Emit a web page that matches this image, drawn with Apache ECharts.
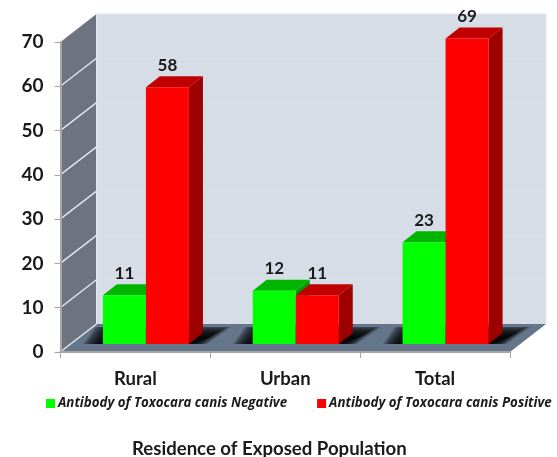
<!DOCTYPE html>
<html>
<head>
<meta charset="utf-8">
<style>html,body{margin:0;padding:0;background:#fff}#chart{width:557px;height:457px}</style>
<script src="https://cdn.jsdelivr.net/npm/echarts@6/dist/echarts.min.js"></script>
</head>
<body>
<div id="chart"></div>
<script>
// Exposed population by residence and antibody result
const categories = ['Rural', 'Urban', 'Total'];
const negativeName = 'Antibody of Toxocara canis Negative';
const positiveName = 'Antibody of Toxocara canis Positive';
const negativeValues = [11, 12, 23];
const positiveValues = [58, 11, 69];
const yTicks = { min: 0, max: 70, interval: 10 };
const axisTitle = 'Residence of Exposed Population';

// Pseudo-3D depth of the chart box and of the bars
const BOX = { dx: 36, dy: -28 };
const BAR = { dx: 14, dy: -11, shiftX: 10.5, shiftY: -8, band: 0.287 };
const FONT = 'Lato, "Open Sans", sans-serif';
const TEXT = '#1a1a1a';

function poly(points, fill) {
  return { type: 'polygon', shape: { points }, style: { fill }, silent: true };
}
function seg(x1, y1, x2, y2, stroke, lineWidth) {
  return { type: 'line', shape: { x1, y1, x2, y2 }, style: { stroke, lineWidth }, silent: true };
}

// Back wall, side wall and floor of the box with their gridlines
function renderBox(params, api) {
  const c = params.coordSys;
  const L = c.x, R = c.x + c.width, T = c.y, B = c.y + c.height;
  const d = BOX;
  const children = [
    poly([[L + d.dx, T + d.dy], [R + d.dx, T + d.dy], [R + d.dx, B + d.dy], [L + d.dx, B + d.dy]], '#d6dde6'),
    poly([[L, B], [L + d.dx, B + d.dy], [R + d.dx, B + d.dy], [R, B]], '#65758a'),
    poly([[L, T], [L + d.dx, T + d.dy], [L + d.dx, B + d.dy], [L, B]], '#6d7480')
  ];
  for (let v = yTicks.min; v <= yTicks.max; v += yTicks.interval) {
    const y = api.coord([0, v])[1];
    if (v > yTicks.min && v < yTicks.max) {
      children.push(seg(L + d.dx, y + d.dy, R + d.dx, y + d.dy, '#dae0e8', 1));
    }
    if (v < yTicks.max) children.push(seg(L + 1, y - 1, L + d.dx, y + d.dy, '#e4e7ec', 1.4));
  }
  children.push(seg(L + d.dx, T + d.dy, L + d.dx, B + d.dy, '#e3e7ec', 1));
  children.push(seg(L + d.dx, T + d.dy, R + d.dx, T + d.dy, '#e3e7ec', 1));
  children.push(seg(R + d.dx, T + d.dy, R + d.dx, B + d.dy, '#e3e7ec', 1));
  return { type: 'group', children };
}

// Soft black shadow on the floor behind each pair of bars, built from stacked translucent layers
function renderShadow(params, api) {
  const base = api.coord([api.value(0), 0]);
  const half = api.size([1, 0])[0] * BAR.band;
  const cx = base[0] + BAR.shiftX;
  const y = base[1] + BAR.shiftY;
  const x0 = cx - half, x1 = cx + half;
  const children = [];
  for (let k = 0; k < 20; k++) {
    const h = Math.min(17, 6 + k * 0.7);
    const spreadL = k * 1.05;
    const spreadR = k * 0.95;
    children.push(poly([
      [x0 - spreadL, y],
      [x1 + spreadR, y],
      [x1 + BAR.dx + 5 + spreadR * 1.3, y - h],
      [x0 + BAR.dx - 2 - spreadL, y - h]
    ], 'rgba(0,0,0,0.12)'));
  }
  return { type: 'group', children };
}

// One cuboid bar: front, top and side faces plus its value label
function cuboid(colors, side) {
  return function (params, api) {
    const i = api.value(0), v = api.value(1);
    const top = api.coord([i, v]);
    const base = api.coord([i, 0]);
    const w = api.size([1, 0])[0] * BAR.band;
    const cx = top[0] + BAR.shiftX;
    const x0 = side < 0 ? cx - w : cx;
    const x1 = x0 + w;
    const yT = top[1] + BAR.shiftY;
    const yB = base[1] + BAR.shiftY;
    const dx = BAR.dx, dy = BAR.dy;
    return {
      type: 'group',
      children: [
        poly([[x1, yT], [x1 + dx, yT + dy], [x1 + dx, yB + dy], [x1, yB]], colors.side),
        poly([[x0, yT], [x0 + dx, yT + dy], [x1 + dx, yT + dy], [x1, yT]], colors.top),
        poly([[x0, yT], [x1, yT], [x1, yB], [x0, yB]], colors.front),
        {
          type: 'text', silent: true,
          style: {
            text: String(v), x: (x0 + x1) / 2, y: yT - 22,
            align: 'center', verticalAlign: 'middle',
            font: '700 17px ' + FONT, fill: TEXT
          }
        }
      ]
    };
  };
}

const chart = echarts.init(document.getElementById('chart'), null, { renderer: 'canvas' });
chart.setOption({
  animation: false,
  backgroundColor: '#ffffff',
  grid: { left: 60.5, right: 47, top: 42, bottom: 105 },
  title: {
    text: axisTitle, left: 127, top: 434,
    textStyle: { fontFamily: FONT, fontSize: 18.6, fontWeight: 700, color: TEXT }
  },
  legend: {
    data: [negativeName, positiveName],
    left: 41, top: 392, itemWidth: 9, itemHeight: 9, itemGap: 30, icon: 'rect',
    textStyle: { fontFamily: '"Open Sans", sans-serif', fontSize: 13.3, fontWeight: 700, fontStyle: 'italic', color: TEXT, padding: [0, 0, 0, -2] }
  },
  xAxis: {
    type: 'category', data: categories, z: 10,
    axisLine: { lineStyle: { color: '#a6a6a6', width: 2 } },
    axisTick: { show: true, length: 6, lineStyle: { color: '#a6a6a6', width: 1 } },
    axisLabel: { margin: 18, fontFamily: FONT, fontSize: 18.5, fontWeight: 700, color: TEXT },
    splitLine: { show: false }
  },
  yAxis: {
    type: 'value', min: yTicks.min, max: yTicks.max, interval: yTicks.interval, z: 10,
    axisLine: { show: true, lineStyle: { color: '#a6a6a6', width: 2 } },
    axisTick: { show: true, length: 6, lineStyle: { color: '#a6a6a6', width: 1 } },
    axisLabel: { margin: 17, fontFamily: FONT, fontSize: 19, fontWeight: 700, color: TEXT },
    splitLine: { show: false }
  },
  series: [
    { type: 'custom', silent: true, z: 1, renderItem: renderBox, data: [[0, 0]], encode: { x: 0, y: 1 } },
    { type: 'custom', silent: true, z: 2, renderItem: renderShadow, data: categories.map((c, i) => [i, 0]), encode: { x: 0, y: 1 } },
    {
      type: 'custom', name: negativeName, z: 3, itemStyle: { color: '#00ff00' },
      renderItem: cuboid({ front: '#00ff00', top: '#00b400', side: '#009b00' }, -1),
      data: negativeValues.map((v, i) => [i, v]), encode: { x: 0, y: 1 }
    },
    {
      type: 'custom', name: positiveName, z: 4, itemStyle: { color: '#ff0000' },
      renderItem: cuboid({ front: '#ff0000', top: '#c00000', side: '#9e0000' }, 1),
      data: positiveValues.map((v, i) => [i, v]), encode: { x: 0, y: 1 }
    }
  ]
});
</script>
</body>
</html>
